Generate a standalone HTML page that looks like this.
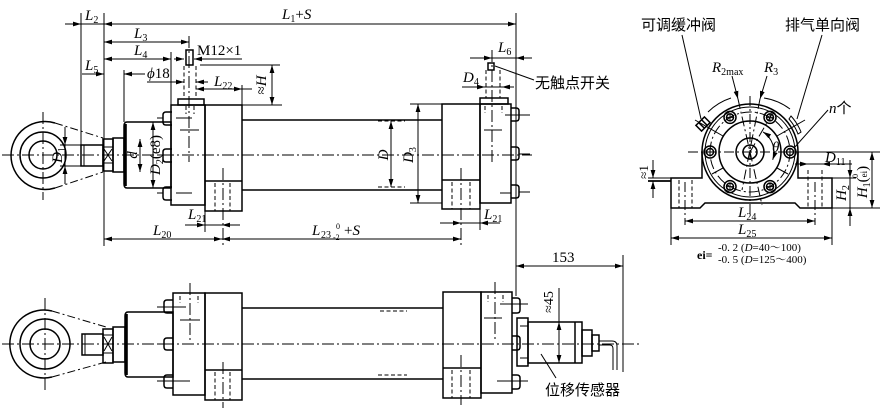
<!DOCTYPE html>
<html>
<head>
<meta charset="utf-8">
<style>
html,body{margin:0;padding:0;background:#fff;}
svg{display:block;}
text{font-family:"Liberation Serif","Noto Serif CJK SC",serif;fill:#000;stroke:none;}
.i{font-style:italic;}
.cn{font-family:"Liberation Sans","Noto Sans CJK SC",sans-serif;font-size:15px;}
</style>
</head>
<body>
<svg width="881" height="420" viewBox="0 0 881 420" xmlns="http://www.w3.org/2000/svg">
<defs>
<marker id="a" viewBox="0 0 10 6" refX="10" refY="3" markerWidth="8" markerHeight="5" markerUnits="userSpaceOnUse" orient="auto-start-reverse"><path d="M0,0L10,3L0,6z" fill="#000"/></marker>
</defs>

<!-- ================= TOP VIEW ================= -->
<g stroke="#000" fill="none" stroke-width="1.5">
  <path d="M55,123 A34,34 0 1 0 55,188"/>
  <circle cx="43" cy="155" r="23"/>
  <circle cx="43" cy="155" r="14"/>
  <rect x="81" y="145" width="22" height="21"/>
  <rect x="103" y="139" width="10" height="32"/>
  <rect x="113" y="138" width="11" height="34"/>
  <path d="M127,122 L171,122 L171,188 L127,188 Q124,188 124,184 L124,126 Q124,122 127,122 Z"/>
  <path d="M172,112 L166,112 Q163,112 163,115 L163,122 Q163,125 166,125 L172,125"/>
  <path d="M172,149 L166,149 Q163,149 163,152 L163,159 Q163,162 166,162 L172,162"/>
  <path d="M172,187 L166,187 Q163,187 163,190 L163,197 Q163,200 166,200 L172,200"/>
  <rect x="171" y="105" width="34" height="100"/>
  <rect x="205" y="105" width="37" height="106"/>
  <line x1="205" y1="181" x2="242" y2="181"/>
  <rect x="178" y="99" width="26" height="6"/>
  <rect x="186" y="50" width="7" height="15"/>
  <line x1="242" y1="120" x2="442" y2="120"/>
  <line x1="242" y1="190" x2="442" y2="190"/>
  <rect x="442" y="104" width="38" height="105"/>
  <line x1="442" y1="180" x2="480" y2="180"/>
  <rect x="480" y="104" width="31" height="99"/>
  <rect x="480" y="98" width="28" height="6"/>
  <rect x="488" y="63" width="6" height="7"/>
  <path d="M511,108 L516,108 Q519,108 519,111 L519,118 Q519,121 516,121 L511,121"/>
  <path d="M511,147 L516,147 Q519,147 519,150 L519,157 Q519,160 516,160 L511,160"/>
  <path d="M511,185 L516,185 Q519,185 519,188 L519,195 Q519,198 516,198 L511,198"/>
</g>
<line x1="125.5" y1="124" x2="125.5" y2="186" stroke="#000" stroke-width="2.6"/>
<g stroke="#000" fill="none" stroke-width="1">
  <path d="M104,149 L112,161 M112,149 L104,161 M103,147 L113,147 M103,163 L113,163"/>
  <line x1="84" y1="145" x2="84" y2="166"/>
  <path d="M55,123 L103,138 M55,188 L103,172" stroke-dasharray="8,3,2,3"/>
  <line x1="180" y1="130" x2="199" y2="130"/>
  <line x1="176" y1="118" x2="192" y2="118"/>
  <line x1="176" y1="193" x2="192" y2="193"/>
  <line x1="157" y1="118" x2="163" y2="118"/>
  <line x1="157" y1="155" x2="163" y2="155"/>
  <line x1="157" y1="193" x2="163" y2="193"/>
  <line x1="484" y1="130" x2="502" y2="130"/>
  <line x1="500" y1="193" x2="511" y2="193"/>
  <line x1="505" y1="115" x2="530" y2="115"/>
  <line x1="519" y1="154" x2="530" y2="154"/>
  <line x1="519" y1="192" x2="530" y2="192"/>
  <g stroke-dasharray="4,2.5">
    <line x1="215" y1="183" x2="215" y2="211"/>
    <line x1="230" y1="183" x2="230" y2="211"/>
    <line x1="452" y1="182" x2="452" y2="209"/>
    <line x1="470" y1="182" x2="470" y2="209"/>
    <line x1="184" y1="66" x2="184" y2="99"/>
    <line x1="196" y1="66" x2="196" y2="99"/>
    <line x1="186" y1="106" x2="186" y2="114"/>
    <line x1="194" y1="106" x2="194" y2="114"/>
    <line x1="486" y1="70" x2="486" y2="98"/>
    <line x1="500" y1="70" x2="500" y2="98"/>
    <line x1="485" y1="106" x2="485" y2="113"/>
    <line x1="502" y1="106" x2="502" y2="113"/>
    <line x1="378" y1="121" x2="405" y2="121"/>
    <line x1="378" y1="187" x2="405" y2="187"/>
  </g>
  <g stroke-dasharray="12,3,2,3">
    <line x1="2" y1="155" x2="532" y2="155"/>
    <line x1="43" y1="112" x2="43" y2="200"/>
    <line x1="189" y1="36" x2="189" y2="162"/>
    <line x1="223" y1="168" x2="223" y2="246"/>
    <line x1="461" y1="168" x2="461" y2="246"/>
    <line x1="492" y1="50" x2="492" y2="162"/>
  </g>
  <line x1="81" y1="13" x2="81" y2="145"/>
  <line x1="104" y1="13" x2="104" y2="246"/>
  <line x1="516" y1="13" x2="516" y2="296"/>
  <line x1="124" y1="70" x2="124" y2="122"/>
  <line x1="171" y1="52" x2="171" y2="105"/>
  <line x1="242" y1="85" x2="242" y2="105"/>
  <line x1="200" y1="65" x2="280" y2="65"/>
  <line x1="242" y1="105" x2="282" y2="105"/>
  <line x1="410" y1="104" x2="442" y2="104"/>
  <line x1="410" y1="203" x2="442" y2="203"/>
  <line x1="205" y1="205" x2="205" y2="232"/>
  <line x1="480" y1="203" x2="480" y2="230"/>
  <line x1="60" y1="145" x2="81" y2="145"/>
  <line x1="60" y1="166" x2="81" y2="166"/>
  <line x1="195" y1="59" x2="242" y2="59"/>
  <line x1="495" y1="66" x2="534" y2="80"/>
</g>

<g stroke="#000" stroke-width="1" fill="none">
  <line x1="65" y1="24" x2="81" y2="24" marker-end="url(#a)"/>
  <line x1="81" y1="24" x2="104" y2="24"/>
  <line x1="104" y1="24" x2="516" y2="24" marker-start="url(#a)" marker-end="url(#a)"/>
  <line x1="104" y1="42" x2="189" y2="42" marker-start="url(#a)" marker-end="url(#a)"/>
  <line x1="104" y1="59" x2="171" y2="59" marker-start="url(#a)" marker-end="url(#a)"/>
  <line x1="174" y1="59" x2="184" y2="59" marker-end="url(#a)"/>
  <line x1="194" y1="59" x2="206" y2="59" marker-start="url(#a)"/>
  <line x1="82" y1="74" x2="104" y2="74" marker-end="url(#a)"/>
  <line x1="124" y1="74" x2="145" y2="74" marker-start="url(#a)"/>
  <line x1="147" y1="82" x2="184" y2="82" marker-end="url(#a)"/>
  <line x1="196" y1="82" x2="208" y2="82" marker-start="url(#a)"/>
  <line x1="196" y1="89" x2="242" y2="89" marker-start="url(#a)" marker-end="url(#a)"/>
  <line x1="242" y1="89" x2="252" y2="89"/>
  <line x1="272" y1="65" x2="272" y2="105" marker-start="url(#a)" marker-end="url(#a)"/>
  <line x1="65" y1="127" x2="65" y2="145" marker-end="url(#a)"/>
  <line x1="65" y1="145" x2="65" y2="166"/>
  <line x1="65" y1="184" x2="65" y2="166" marker-end="url(#a)"/>
  <line x1="140" y1="139" x2="140" y2="172" marker-start="url(#a)" marker-end="url(#a)"/>
  <line x1="153" y1="122" x2="153" y2="188" marker-start="url(#a)" marker-end="url(#a)"/>
  <line x1="391" y1="121" x2="391" y2="187" marker-start="url(#a)" marker-end="url(#a)"/>
  <line x1="418" y1="104" x2="418" y2="203" marker-start="url(#a)" marker-end="url(#a)"/>
  <line x1="470" y1="58" x2="492" y2="58" marker-end="url(#a)"/>
  <line x1="492" y1="58" x2="516" y2="58"/>
  <line x1="532" y1="58" x2="516" y2="58" marker-end="url(#a)"/>
  <line x1="462" y1="87" x2="485" y2="87" marker-end="url(#a)"/>
  <line x1="485" y1="87" x2="502" y2="87"/>
  <line x1="514" y1="87" x2="502" y2="87" marker-end="url(#a)"/>
  <line x1="185" y1="225" x2="205" y2="225" marker-end="url(#a)"/>
  <line x1="205" y1="225" x2="222" y2="225"/>
  <line x1="240" y1="225" x2="222" y2="225" marker-end="url(#a)"/>
  <line x1="104" y1="239" x2="222" y2="239" marker-start="url(#a)" marker-end="url(#a)"/>
  <line x1="222" y1="239" x2="461" y2="239" marker-start="url(#a)" marker-end="url(#a)"/>
  <line x1="440" y1="223" x2="461" y2="223" marker-end="url(#a)"/>
  <line x1="461" y1="223" x2="480" y2="223"/>
  <line x1="500" y1="223" x2="480" y2="223" marker-end="url(#a)"/>
</g>

<g font-size="15">
  <text x="85" y="20"><tspan class="i">L</tspan><tspan font-size="10" dy="3">2</tspan></text>
  <text x="282" y="19"><tspan class="i">L</tspan><tspan font-size="10" dy="3">1</tspan><tspan dy="-3">+</tspan><tspan class="i">S</tspan></text>
  <text x="134" y="38"><tspan class="i">L</tspan><tspan font-size="10" dy="3">3</tspan></text>
  <text x="134" y="55"><tspan class="i">L</tspan><tspan font-size="10" dy="3">4</tspan></text>
  <text x="85" y="70"><tspan class="i">L</tspan><tspan font-size="10" dy="3">5</tspan></text>
  <text x="147" y="78"><tspan class="i">ϕ</tspan>18</text>
  <text x="197" y="55">M12×1</text>
  <text x="214" y="86"><tspan class="i">L</tspan><tspan font-size="10" dy="3">22</tspan></text>
  <text transform="translate(266,85) rotate(-90)" text-anchor="middle">≈<tspan class="i">H</tspan></text>
  <text transform="translate(62,155) rotate(-90)" text-anchor="middle"><tspan class="i">D</tspan><tspan font-size="10" dy="3">1</tspan></text>
  <text transform="translate(137,155) rotate(-90)" text-anchor="middle" class="i">d</text>
  <text transform="translate(160,155) rotate(-90)" text-anchor="middle"><tspan class="i">D</tspan><tspan font-size="10" dy="3">2</tspan><tspan dy="-3">(e8)</tspan></text>
  <text transform="translate(388,155) rotate(-90)" text-anchor="middle" class="i">D</text>
  <text transform="translate(413,155) rotate(-90)" text-anchor="middle"><tspan class="i">D</tspan><tspan font-size="10" dy="3">3</tspan></text>
  <text x="498" y="52"><tspan class="i">L</tspan><tspan font-size="10" dy="3">6</tspan></text>
  <text x="463" y="82"><tspan class="i">D</tspan><tspan font-size="10" dy="3">4</tspan></text>
  <text x="188" y="219"><tspan class="i">L</tspan><tspan font-size="10" dy="3">21</tspan></text>
  <text x="484" y="219"><tspan class="i">L</tspan><tspan font-size="10" dy="3">21</tspan></text>
  <text x="153" y="235"><tspan class="i">L</tspan><tspan font-size="10" dy="3">20</tspan></text>
  <text x="312" y="235" class="i">L</text>
  <text x="321" y="238" font-size="10">23</text>
  <text x="333" y="240" font-size="8">-2</text>
  <text x="336" y="229" font-size="8">0</text>
  <text x="344" y="235">+<tspan class="i">S</tspan></text>
</g>
<text x="535" y="88" class="cn">无触点开关</text>

<!-- ================= BOTTOM VIEW ================= -->
<g stroke="#000" fill="none" stroke-width="1.5">
  <path d="M52,311 A34,34 0 1 0 52,377"/>
  <circle cx="45" cy="344" r="25"/>
  <circle cx="45" cy="344" r="15"/>
  <rect x="82" y="334" width="21" height="21"/>
  <rect x="103" y="329" width="10" height="34"/>
  <rect x="113" y="327" width="12" height="35"/>
  <path d="M128,312 L173,312 L173,377 L128,377 Q125,377 125,373 L125,316 Q125,312 128,312 Z"/>
  <path d="M173,300 L167,300 Q164,300 164,303 L164,310 Q164,313 167,313 L173,313"/>
  <path d="M173,338 L167,338 Q164,338 164,341 L164,347 Q164,350 167,350 L173,350"/>
  <path d="M173,375 L167,375 Q164,375 164,378 L164,385 Q164,388 167,388 L173,388"/>
  <rect x="173" y="293" width="32" height="102"/>
  <rect x="205" y="293" width="37" height="107"/>
  <line x1="205" y1="370" x2="242" y2="370"/>
  <line x1="242" y1="308" x2="443" y2="308"/>
  <line x1="242" y1="379" x2="443" y2="379"/>
  <rect x="443" y="292" width="38" height="106"/>
  <line x1="443" y1="368" x2="481" y2="368"/>
  <rect x="481" y="292" width="31" height="101"/>
  <path d="M512,298 L517,298 Q520,298 520,301 L520,310 Q520,313 517,313 L512,313"/>
  <path d="M512,336 L517,336 Q520,336 520,339 L520,347 Q520,350 517,350 L512,350"/>
  <path d="M512,375 L517,375 Q520,375 520,378 L520,386 Q520,389 517,389 L512,389"/>
  <rect x="517" y="318" width="11" height="48"/>
  <rect x="528" y="322" width="54" height="41"/>
  <line x1="575" y1="322" x2="575" y2="363"/>
  <rect x="582" y="330" width="10" height="26"/>
  <rect x="592" y="335" width="7" height="16"/>
</g>
<line x1="126.5" y1="314" x2="126.5" y2="375" stroke="#000" stroke-width="2.6"/>
<g stroke="#000" fill="none" stroke-width="1">
  <path d="M104,337 L112,351 M112,337 L104,351 M103,335 L113,335 M103,353 L113,353"/>
  <line x1="85" y1="334" x2="85" y2="355"/>
  <path d="M52,311 L106,327 M52,377 L106,362" stroke-dasharray="8,3,2,3"/>
  <line x1="180" y1="320" x2="200" y2="320"/>
  <line x1="157" y1="307" x2="186" y2="307"/>
  <line x1="157" y1="344" x2="164" y2="344"/>
  <line x1="157" y1="381" x2="190" y2="381"/>
  <line x1="484" y1="318" x2="502" y2="318"/>
  <line x1="500" y1="304" x2="528" y2="304"/>
  <line x1="497" y1="381" x2="528" y2="381"/>
  <line x1="520" y1="326" x2="528" y2="326"/>
  <line x1="520" y1="358" x2="528" y2="358"/>
  <path d="M599,341 L612,341 Q617,341 617,346 L617,370"/>
  <path d="M599,345 L610,345 Q613,345 613,349 L613,370"/>
  <g stroke-dasharray="4,2.5">
    <line x1="215" y1="372" x2="215" y2="400"/>
    <line x1="230" y1="372" x2="230" y2="400"/>
    <line x1="452" y1="370" x2="452" y2="398"/>
    <line x1="470" y1="370" x2="470" y2="398"/>
    <line x1="380" y1="311" x2="407" y2="311"/>
    <line x1="378" y1="375" x2="407" y2="375"/>
    <line x1="180" y1="296" x2="180" y2="303"/>
    <line x1="198" y1="296" x2="198" y2="303"/>
    <line x1="488" y1="295" x2="488" y2="302"/>
    <line x1="503" y1="295" x2="503" y2="302"/>
  </g>
  <g stroke-dasharray="12,3,2,3">
    <line x1="2" y1="344" x2="640" y2="344"/>
    <line x1="45" y1="298" x2="45" y2="390"/>
    <line x1="190" y1="283" x2="190" y2="340"/>
    <line x1="223" y1="362" x2="223" y2="408"/>
    <line x1="461" y1="355" x2="461" y2="405"/>
    <line x1="495" y1="282" x2="495" y2="340"/>
  </g>
  <line x1="623" y1="255" x2="623" y2="372"/>
  <line x1="541" y1="354" x2="556" y2="378"/>
  <line x1="559" y1="288" x2="559" y2="322"/>
</g>
<g stroke="#000" stroke-width="1" fill="none">
  <line x1="516" y1="266" x2="623" y2="266" marker-start="url(#a)" marker-end="url(#a)"/>
  <line x1="559" y1="322" x2="559" y2="363" marker-start="url(#a)" marker-end="url(#a)"/>
</g>
<text x="552" y="262" font-size="15">153</text>
<text transform="translate(553,302) rotate(-90)" text-anchor="middle" font-size="14">≈45</text>
<text x="545" y="395" class="cn" font-size="16">位移传感器</text>

<!-- ================= RIGHT VIEW ================= -->
<g stroke="#000" fill="none" stroke-width="1.5">
  <circle cx="750" cy="152" r="48"/>
  <circle cx="750" cy="152" r="31"/>
  <circle cx="750" cy="152" r="14"/>
  <circle cx="750" cy="152" r="7"/>
  <path d="M702,152 L702,178 L671,178 L671,208 L700,208 L705,203 L795,203 L800,208 L832,208 L832,178 L798,178 L798,152"/>
  <g>
    <circle cx="790" cy="152" r="6"/><circle cx="790" cy="152" r="3.5"/>
    <circle cx="770" cy="117.4" r="6"/><circle cx="770" cy="117.4" r="3.5"/>
    <circle cx="730" cy="117.4" r="6"/><circle cx="730" cy="117.4" r="3.5"/>
    <circle cx="710" cy="152" r="6"/><circle cx="710" cy="152" r="3.5"/>
    <circle cx="730" cy="186.6" r="6"/><circle cx="730" cy="186.6" r="3.5"/>
    <circle cx="770" cy="186.6" r="6"/><circle cx="770" cy="186.6" r="3.5"/>
  </g>
  <g transform="translate(703,124) rotate(-45)">
    <rect x="-6" y="-4" width="12" height="8"/>
    <line x1="-2" y1="-4" x2="-2" y2="4"/>
    <line x1="2" y1="-4" x2="2" y2="4"/>
  </g>
  <path d="M791,116 A52,52 0 0 1 801,132 L798,134 A48,48 0 0 0 789,119 Z" stroke-width="1"/>
</g>
<g stroke="#000" fill="none" stroke-width="1">
  <circle cx="750" cy="152" r="45"/>
  <circle cx="750" cy="152" r="40" stroke-dasharray="10,3,2,3"/>
  <path d="M708,112 A58,58 0 0 1 731,98"/>
  <path d="M764,98 A58,58 0 0 1 790,109"/>
  <path d="M786,152h8M790,148v8 M766,117.4h8M770,113.4v8 M726,117.4h8M730,113.4v8 M706,152h8M710,148v8 M726,186.6h8M730,182.6v8 M766,186.6h8M770,182.6v8"/>
  <line x1="723" y1="136" x2="695" y2="120"/>
  <line x1="777" y1="136" x2="805" y2="120"/>
  <line x1="723" y1="168" x2="712" y2="174"/>
  <line x1="777" y1="168" x2="788" y2="174"/>
  <g stroke-dasharray="10,3,2,3">
    <line x1="688" y1="152" x2="812" y2="152"/>
    <line x1="750" y1="96" x2="750" y2="214"/>
    <line x1="738" y1="99" x2="762" y2="205"/>
    <line x1="760" y1="99" x2="742" y2="190"/>
    <line x1="750" y1="152" x2="772" y2="114"/>
    <line x1="685" y1="182" x2="685" y2="225"/>
    <line x1="815" y1="182" x2="815" y2="225"/>
  </g>
  <g stroke-dasharray="4,2.5">
    <line x1="679" y1="180" x2="679" y2="208"/>
    <line x1="692" y1="180" x2="692" y2="208"/>
    <line x1="808" y1="170" x2="808" y2="208"/>
    <line x1="822" y1="170" x2="822" y2="208"/>
  </g>
  <line x1="682" y1="35" x2="701" y2="119"/>
  <line x1="822" y1="35" x2="797" y2="119"/>
  <line x1="828" y1="110" x2="794" y2="148"/>
  <line x1="800" y1="152" x2="880" y2="152"/>
  <line x1="832" y1="208" x2="880" y2="208"/>
  <line x1="832" y1="178" x2="856" y2="178"/>
  <line x1="671" y1="208" x2="671" y2="245"/>
  <line x1="832" y1="208" x2="832" y2="245"/>
  <line x1="648" y1="178" x2="671" y2="178"/>
  <line x1="648" y1="181" x2="671" y2="181" stroke-width="1.8"/>
  <line x1="732" y1="76" x2="738" y2="99" marker-end="url(#a)"/>
  <line x1="767" y1="76" x2="760" y2="99" marker-end="url(#a)"/>
  <path d="M763.1,131.9 A24,24 0 0 1 772.7,159.8" marker-start="url(#a)" marker-end="url(#a)"/>
  <line x1="685" y1="221" x2="815" y2="221" marker-start="url(#a)" marker-end="url(#a)"/>
  <line x1="671" y1="238" x2="832" y2="238" marker-start="url(#a)" marker-end="url(#a)"/>
  <line x1="795" y1="164" x2="808" y2="164" marker-end="url(#a)"/>
  <line x1="808" y1="164" x2="822" y2="164"/>
  <line x1="852" y1="164" x2="822" y2="164" marker-end="url(#a)"/>
  <line x1="850" y1="160" x2="850" y2="178" marker-end="url(#a)"/>
  <line x1="850" y1="178" x2="850" y2="208"/>
  <line x1="850" y1="226" x2="850" y2="208" marker-end="url(#a)"/>
  <line x1="872" y1="152" x2="872" y2="208" marker-start="url(#a)" marker-end="url(#a)"/>
  <line x1="653" y1="160" x2="653" y2="178" marker-end="url(#a)"/>
  <line x1="653" y1="198" x2="653" y2="181" marker-end="url(#a)"/>
</g>

<text x="641" y="30" class="cn">可调缓冲阀</text>
<text x="785" y="30" class="cn">排气单向阀</text>
<g font-size="15">
  <text x="712" y="72"><tspan class="i">R</tspan><tspan font-size="10" dy="3">2max</tspan></text>
  <text x="764" y="72"><tspan class="i">R</tspan><tspan font-size="10" dy="3">3</tspan></text>
  <text x="829" y="113"><tspan class="i">n</tspan><tspan font-family="Liberation Sans, Noto Sans CJK SC, sans-serif">个</tspan></text>
  <text x="772" y="152" class="i">θ</text>
  <text x="825" y="162"><tspan class="i">D</tspan><tspan font-size="10" dy="3">11</tspan></text>
  <text x="738" y="217"><tspan class="i">L</tspan><tspan font-size="10" dy="3">24</tspan></text>
  <text x="738" y="234"><tspan class="i">L</tspan><tspan font-size="10" dy="3">25</tspan></text>
  <text transform="translate(846,193) rotate(-90)" text-anchor="middle"><tspan class="i">H</tspan><tspan font-size="10" dy="3">2</tspan></text>
  <text transform="translate(867,182) rotate(-90)" text-anchor="middle"><tspan class="i">H</tspan><tspan font-size="10" dy="3">1</tspan><tspan dy="-3">(</tspan><tspan font-size="9">ei</tspan><tspan>)</tspan></text>
  <text transform="translate(858,176) rotate(-90)" text-anchor="middle" font-size="8">0</text>
  <text transform="translate(648,172) rotate(-90)" text-anchor="middle" font-size="13">≈1</text>
</g>
<text x="697" y="259" font-size="12" font-weight="bold">ei=</text>
<text x="718" y="251" font-size="11">-0. 2 (<tspan class="i">D</tspan>=40～100)</text>
<text x="718" y="263" font-size="11">-0. 5 (<tspan class="i">D</tspan>=125～400)</text>
</svg>
</body>
</html>
